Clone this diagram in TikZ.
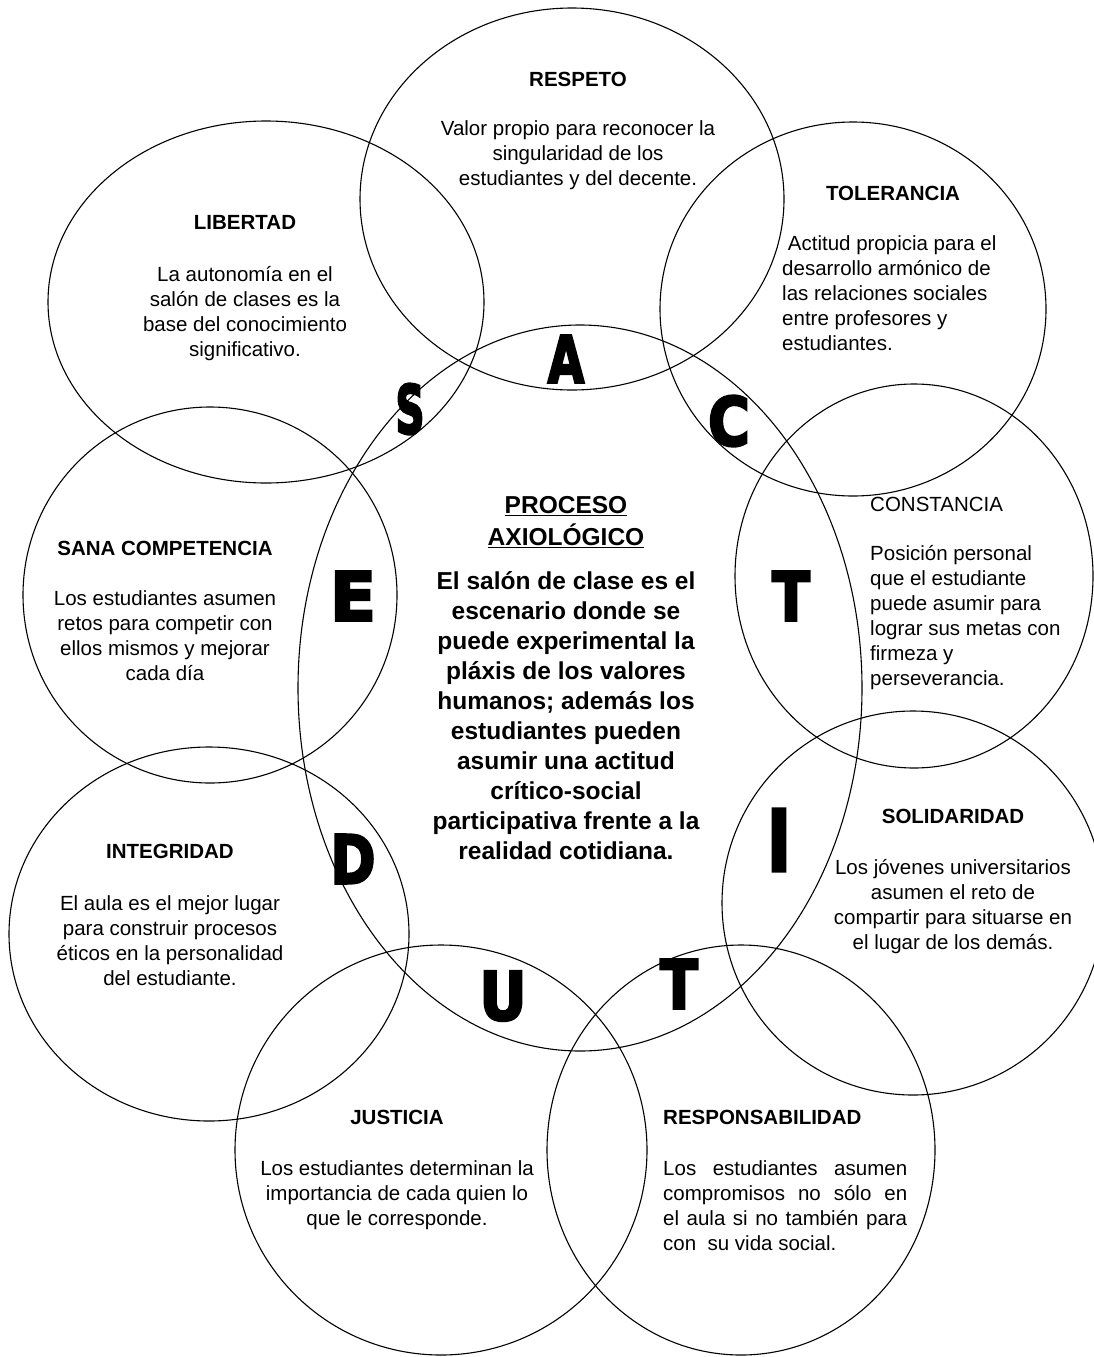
\documentclass[tikz,border=0pt]{standalone}
\usepackage{graphicx}
\usepackage{fontspec}
\setmainfont{Liberation Sans}
\newfontfamily\letterfont{DejaVu Sans}[UprightFont={* Bold}, FakeBold=4]
\newcommand{\bigL}[3]{\scalebox{#1}[1]{\fontsize{#2}{#2}\selectfont #3}}
\begin{document}
\begin{tikzpicture}[x=1pt,y=-1pt,
  ring/.style={draw, line width=1.1pt},
  ttl/.style={font=\fontsize{20.5}{25}\selectfont\bfseries, inner sep=0pt, anchor=base},
  body/.style={font=\fontsize{20.5}{25}\selectfont, align=center, inner sep=0pt, anchor=north},
  lbody/.style={font=\fontsize{20.5}{25}\selectfont, align=left, inner sep=0pt, anchor=north west},
  cbody/.style={font=\fontsize{24.5}{30}\selectfont\bfseries, align=center, inner sep=0pt, anchor=north},
  big/.style={inner sep=0pt, anchor=center, font=\letterfont}]
\useasboundingbox (0,0) rectangle (1094,1357);
\fill[white] (0,0) rectangle (1094,1357);

% ellipses
\draw[ring] (572,199) ellipse [x radius=212pt, y radius=191pt];
\draw[ring] (266,302) ellipse [x radius=218pt, y radius=181pt];
\draw[ring] (853,309) ellipse [x radius=193pt, y radius=187pt];
\draw[ring] (914,576) ellipse [x radius=179pt, y radius=192pt];
\draw[ring] (210,595) ellipse [x radius=187pt, y radius=188pt];
\draw[ring] (913,903) ellipse [x radius=191pt, y radius=192pt];
\draw[ring] (209,934) ellipse [x radius=200pt, y radius=187pt];
\draw[ring] (441,1150) ellipse [x radius=206pt, y radius=205pt];
\draw[ring] (741,1150) ellipse [x radius=194pt, y radius=205pt];
\draw[ring] (580,688) ellipse [x radius=282pt, y radius=363pt];

% titles
\node[ttl] (tRes) at (578,86) {RESPETO};
\node[ttl] (tLib) at (245,229) {LIBERTAD};
\node[ttl] (tTol) at (893,200) {TOLERANCIA};
\node[ttl, font=\fontsize{20.5}{25}\selectfont, anchor=base west] (tCon) at (870,511) {CONSTANCIA};
\node[ttl] (tSan) at (165,555) {SANA COMPETENCIA};
\node[ttl] (tSol) at (953,823) {SOLIDARIDAD};
\node[ttl] (tInt) at (170,858) {INTEGRIDAD};
\node[ttl] (tJus) at (397,1124) {JUSTICIA};
\node[ttl, anchor=base west] (tRsp) at (663,1124) {RESPONSABILIDAD};

% bodies
\node[body] (bRes) at (578,117.5) {\strut Valor propio para reconocer la\\ singularidad de los\\ estudiantes y del decente.};
\node[body] (bLib) at (245,263.5) {\strut La autonomía en el\\ salón de clases es la\\ base del conocimiento\\ significativo.};
\node[lbody] (bTol) at (782,232.5) {\strut\ Actitud propicia para el\\ desarrollo armónico de\\ las relaciones sociales\\ entre profesores y\\ estudiantes.};
\node[lbody] (bCon) at (870,542.5) {\strut Posición personal\\ que el estudiante\\ puede asumir para\\ lograr sus metas con\\ firmeza y\\ perseverancia.};
\node[body] (bSan) at (165,587.5) {\strut Los estudiantes asumen\\ retos para competir con\\ ellos mismos y mejorar\\ cada día};
\node[body] (bSol) at (953,856.5) {\strut Los jóvenes universitarios\\ asumen el reto de\\ compartir para situarse en\\ el lugar de los demás.};
\node[body] (bInt) at (170,892.5) {\strut El aula es el mejor lugar\\ para construir procesos\\ éticos en la personalidad\\ del estudiante.};
\node[body] (bJus) at (397,1157.5) {\strut Los estudiantes determinan la\\ importancia de cada quien lo\\ que le corresponde.};
\node[lbody] (bRsp) at (663,1157.5) {\strut\makebox[244pt][s]{Los estudiantes asumen}\\ \makebox[244pt][s]{compromisos no sólo en}\\ \makebox[244pt][s]{el aula si no también para}\\ con\ \ su vida social.};

% centre
\node[cbody] (hCen) at (566,492.5) {\strut\underline{PROCESO}\\ \underline{AXIOLÓGICO}};
\node[cbody] (bCen) at (566,568.5) {\strut El salón de clase es el\\ escenario donde se\\ puede experimental la\\ pláxis de los valores\\ humanos; además los\\ estudiantes pueden\\ asumir una actitud\\ crítico-social\\ participativa frente a la\\ realidad cotidiana.};

% big letters (A C T I T U D E S)
\node[big] (lS) at (410,409) {\bigL{0.6}{67}{S}};
\node[big] (lA) at (566,359) {\bigL{0.73}{64.5}{A}};
\node[big] (lC) at (729,421) {\bigL{0.85}{67}{C}};
\node[big] (lT1) at (791,596) {\bigL{0.82}{67}{T}};
\node[big] (lE) at (353,596) {\bigL{1.0}{67}{E}};
\node[big] (lD) at (353,859) {\bigL{0.81}{67}{D}};
\node[big] (lI) at (779,840) {\bigL{0.77}{85}{I}};
\node[big] (lT2) at (679,984) {\bigL{0.82}{67}{T}};
\node[big] (lU) at (503,996) {\bigL{0.87}{67}{U}};
\end{tikzpicture}
\end{document}
